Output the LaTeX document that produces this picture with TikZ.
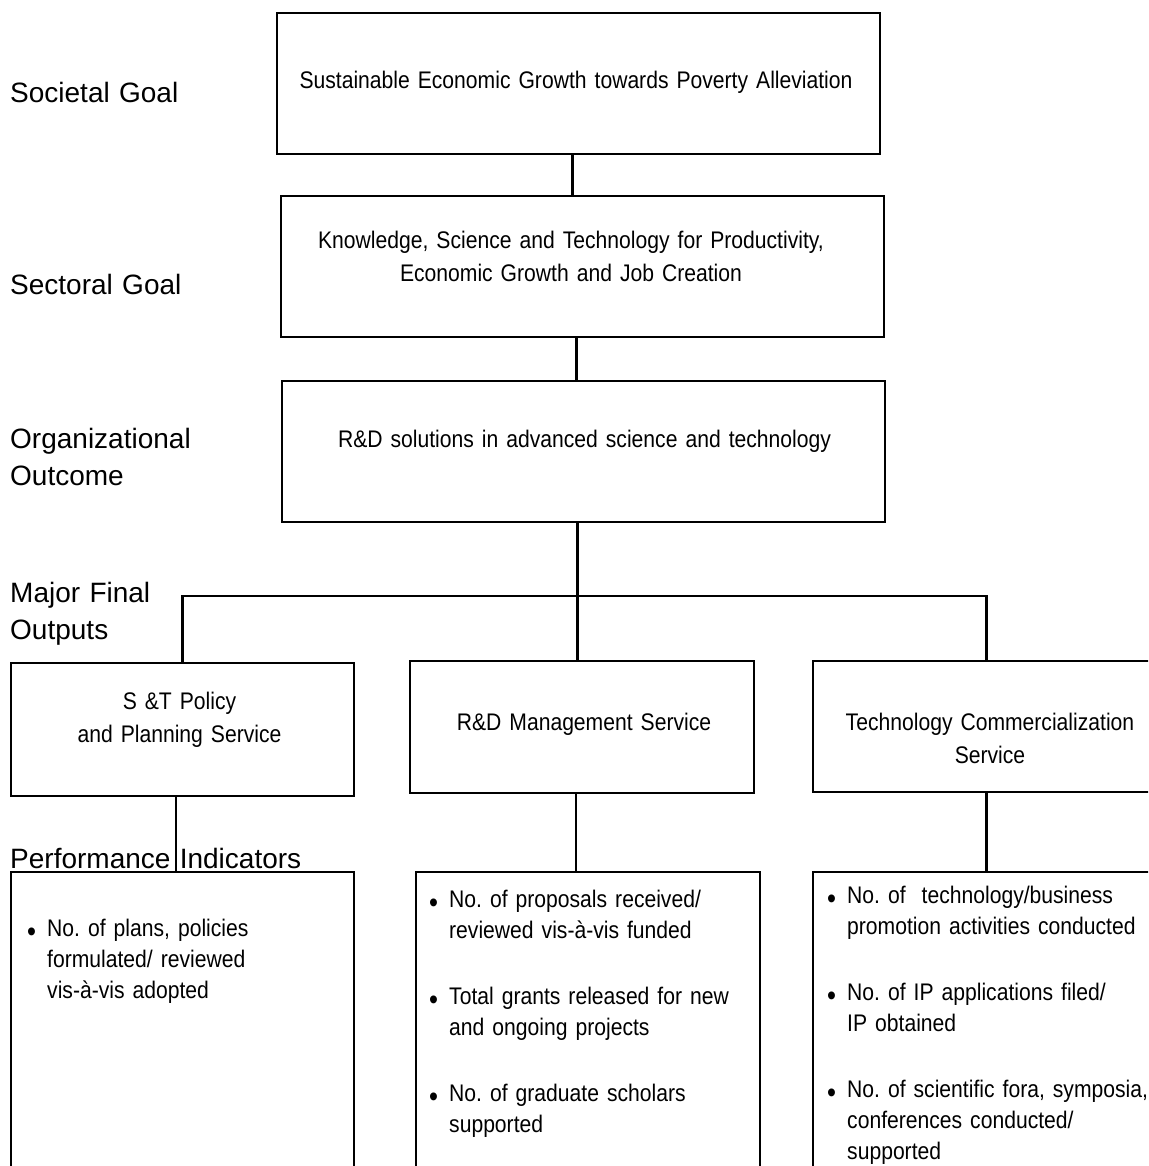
\documentclass[tikz,border=0pt]{standalone}
\usepackage{fontspec}
\setmainfont{Liberation Sans}
\newfontfamily\narrowsans[FakeStretch=0.88, WordSpace=0.7]{Liberation Sans}
\usetikzlibrary{calc}

\newcommand{\pibullet}{\noindent\llap{\makebox[20pt][l]{\raisebox{-5pt}{\fontsize{29}{29}\selectfont\textbullet}}}}
\newcommand{\pigap}{\par\vskip 35pt}

\begin{document}
\begin{tikzpicture}[x=1pt, y=-1pt,
 box/.style={draw, line width=2.6pt, inner sep=0pt},
 link/.style={line width=2.7pt},
 boxtext/.style={anchor=base, inner sep=0pt, align=center, font=\narrowsans\fontsize{24}{33}\selectfont\frenchspacing},
 sidetag/.style={anchor=base west, inner sep=0pt, text width=320pt, align=left, font=\fontsize{28}{37}\selectfont},
 pilist/.style={anchor=base west, inner sep=0pt, text width=330pt, font=\narrowsans\fontsize{24}{31}\selectfont,
  execute at begin node={\raggedright\frenchspacing\hyphenpenalty=10000\leftskip=20pt}}]
 \useasboundingbox (0,0) rectangle (1148,1166);
 \clip (0,0) rectangle (1148,1166);
 % goal, sector and outcome boxes
 \node[box, minimum width=603pt, minimum height=141pt] (goal) at (578.5,83.5) {};
 \node[box, minimum width=603pt, minimum height=141pt] (sector) at (582.5,266.5) {};
 \node[box, minimum width=603pt, minimum height=141pt] (outcome) at (583.5,451.5) {};
 \node[boxtext, text width=580pt] (goal-txt) at (576,89) {Sustainable Economic Growth towards Poverty Alleviation};
 \node[boxtext, text width=580pt] (sector-txt) at (571,248) {Knowledge, Science and Technology for Productivity,\\ Economic Growth and Job Creation};
 \node[boxtext, text width=580pt] (outcome-txt) at (584.5,447) {R\&D solutions in advanced science and technology};
 % major final outputs
 \node[box, minimum width=343pt, minimum height=133pt] (policy) at (182.5,729.5) {};
 \node[box, minimum width=344pt, minimum height=132pt] (rdm) at (582,727) {};
 \node[box, minimum width=347pt, minimum height=131pt] (commerce) at (986.5,726.5) {};
 \node[boxtext, text width=330pt] (policy-txt) at (179.5,709) {S \&T Policy\\ and Planning Service};
 \node[boxtext, text width=330pt] (rdm-txt) at (584,730) {R\&D Management Service};
 \node[boxtext, text width=330pt] (commerce-txt) at (990,730) {Technology Commercialization\\ Service};
 % performance indicators
 \node[box, minimum width=343pt, minimum height=330pt] (pi1) at (182.5,1037) {};
 \node[box, minimum width=344pt, minimum height=330pt] (pi2) at (588,1037) {};
 \node[box, minimum width=347pt, minimum height=330pt] (pi3) at (986.5,1037) {};
 \node[pilist] (pi1-txt) at (27,936) {\pibullet No. of plans, policies\\ formulated/ reviewed\\ vis-à-vis adopted};
 \node[pilist] (pi2-txt) at (429,907) {\pibullet No. of proposals received/\\ reviewed vis-à-vis funded\pigap
  \pibullet Total grants released for new\\ and ongoing projects\pigap
  \pibullet No. of graduate scholars\\ supported};
 \node[pilist] (pi3-txt) at (827,903) {\pibullet No. of~ technology/business\\ promotion activities conducted\pigap
  \pibullet No. of IP applications filed/\\ IP obtained\pigap
  \pibullet No. of scientific fora, symposia,\\ conferences conducted/\\ supported};
 % level names
 \node[sidetag] (societal) at (10,103) {Societal Goal};
 \node[sidetag] (sectoral) at (10,294) {Sectoral Goal};
 \node[sidetag] (organizational) at (10,448) {Organizational\\ Outcome};
 \node[sidetag] (mfo) at (10,602) {Major Final\\ Outputs};
 \node[sidetag] (perf) at (10,868) {Performance Indicators};
 % connectors
 \coordinate (bus) at (577.5,596);
 \draw[link] ([xshift=-6pt]goal.south) -- ([xshift=-10pt]sector.north);
 \draw[link] ([xshift=-6pt]sector.south) -- ([xshift=-7pt]outcome.north);
 \draw[link] ([xshift=-6pt]outcome.south) -- (bus);
 \draw[link] (policy.north) |- (bus) -| (commerce.north);
 \draw[link] (bus) -- ([xshift=-4.5pt]rdm.north);
 \draw[link] ([xshift=-6.5pt]policy.south) -- ([xshift=-6.5pt]pi1.north);
 \draw[link] ([xshift=-6pt]rdm.south) -- ([xshift=-12pt]pi2.north);
 \draw[link] (commerce.south) -- (pi3.north);
\end{tikzpicture}
\end{document}
